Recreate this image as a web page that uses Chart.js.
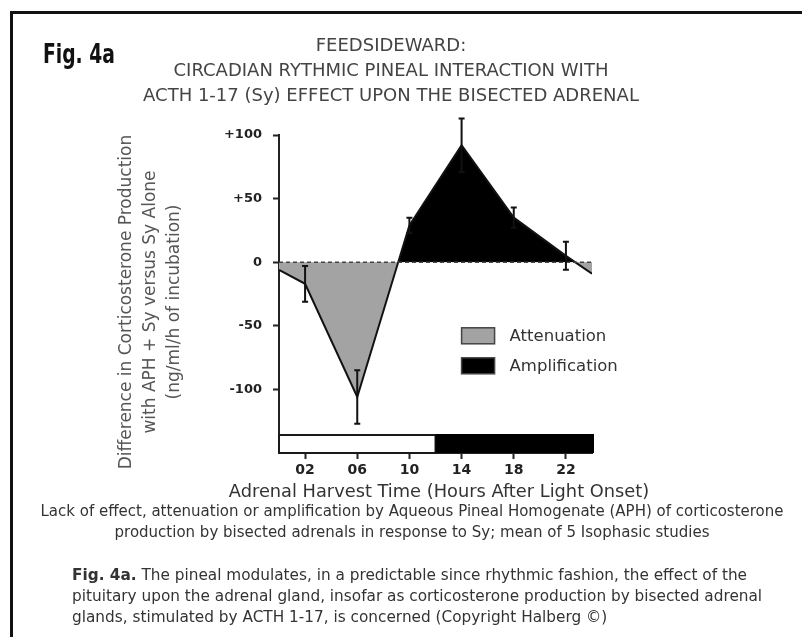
<!DOCTYPE html>
<html lang="en">
<head>
  <meta charset="UTF-8">
  <title>Fig. 4a Feedsideward</title>
  <script src="https://cdn.jsdelivr.net/npm/chart.js"></script>
  <style>
    body {
      margin: 0;
      background: #ffffff;
      font-family: "DejaVu Sans", Verdana, sans-serif;
      color: #333;
    }
    .page {
      position: relative;
      width: 802px;
      height: 637px;
      overflow: hidden;
    }
    /* frame lines of the scanned figure */
    .frame-top { position: absolute; left: 10px; top: 11px; width: 792px; height: 3px; background: #111; }
    .frame-left { position: absolute; left: 10px; top: 11px; width: 3px; height: 626px; background: #111; }
    canvas { position: absolute; left: 0; top: 0; }
    .txt { position: absolute; white-space: nowrap; }
    .center { transform: translateX(-50%); text-align: center; }
    .fig-label {
      left: 43px; top: 39px;
      font-family: "DejaVu Sans Condensed", "DejaVu Sans", sans-serif;
      font-stretch: condensed;
      font-weight: bold; font-size: 26px; color: #111;
      transform: scaleX(0.8); transform-origin: left top;
    }
    .title { left: 391px; font-size: 18px; color: #444; line-height: 20px; }
    .ytitle {
      left: 149px; top: 302px; width: 420px;
      font-size: 17px; line-height: 24px; color: #555; text-align: center;
      transform: translate(-50%, -50%) rotate(-90deg);
    }
    .xtitle { left: 439px; top: 481px; font-size: 17.8px; color: #333; line-height: 20px; }
    .caption { left: 412px; font-size: 15px; color: #333; line-height: 18px; }
    .para { left: 72px; font-size: 15.3px; color: #333; line-height: 18px; }
  </style>
</head>
<body>
<div class="page">
  <div class="frame-top"></div>
  <div class="frame-left"></div>
  <canvas id="chart" width="802" height="637"></canvas>

  <div class="txt fig-label">Fig. 4a</div>
  <div class="txt title center" style="top:35px">FEEDSIDEWARD:</div>
  <div class="txt title center" style="top:60px">CIRCADIAN RYTHMIC PINEAL INTERACTION WITH</div>
  <div class="txt title center" style="top:85px">ACTH 1-17 (Sy) EFFECT UPON THE BISECTED ADRENAL</div>

  <div class="txt ytitle">Difference in Corticosterone Production<br>with APH + Sy versus Sy Alone<br>(ng/ml/h of incubation)</div>
  <div class="txt xtitle center">Adrenal Harvest Time (Hours After Light Onset)</div>

  <div class="txt caption center" style="top:502px">Lack of effect, attenuation or amplification by Aqueous Pineal Homogenate (APH) of corticosterone</div>
  <div class="txt caption center" style="top:523px">production by bisected adrenals in response to Sy; mean of 5 Isophasic studies</div>

  <div class="txt para" style="top:566px"><b>Fig. 4a.</b> The pineal modulates, in a predictable since rhythmic fashion, the effect of the</div>
  <div class="txt para" style="top:587px">pituitary upon the adrenal gland, insofar as corticosterone production by bisected adrenal</div>
  <div class="txt para" style="top:608px">glands, stimulated by ACTH 1-17, is concerned (Copyright Halberg ©)</div>
</div>

<script>
  // Data
  const hours = [0, 2, 6, 10, 14, 18, 22, 24];
  const meanDiff = [-6, -17, -106, 29, 92, 35, 5, -9];
  const sem = [0, 14, 21, 6, 21, 8, 11, 0];

  const xTickHours = [2, 6, 10, 14, 18, 22];
  const xTickLabels = ['02', '06', '10', '14', '18', '22'];
  const yTickValues = [100, 50, 0, -50, -100];

  // light / dark schedule (hours after light onset)
  const lightSpan = [0, 12];
  const darkSpan = [12, 24];

  const legendItems = [
    { label: 'Attenuation', color: '#a3a3a3' },
    { label: 'Amplification', color: '#000000' },
  ];

  const GRAY = '#a3a3a3';
  const INK = '#1a1a1a';

  // dashed zero line, light/dark bar, error bars, legend
  const extrasPlugin = {
    id: 'extras',
    afterDatasetsDraw(chart) {
      const { ctx, chartArea, scales: { x, y } } = chart;
      ctx.save();

      // zero reference line
      const y0 = y.getPixelForValue(0);
      ctx.strokeStyle = '#444';
      ctx.lineWidth = 1.5;
      ctx.setLineDash([4, 3]);
      ctx.beginPath();
      ctx.moveTo(chartArea.left, y0);
      ctx.lineTo(chartArea.right, y0);
      ctx.stroke();
      ctx.setLineDash([]);

      // light / dark bar along the bottom of the plot
      const bandTop = chartArea.bottom - 18;
      const bandBottom = chartArea.bottom;
      const lx1 = x.getPixelForValue(lightSpan[0]);
      const lx2 = x.getPixelForValue(lightSpan[1]);
      const dx1 = x.getPixelForValue(darkSpan[0]);
      const dx2 = x.getPixelForValue(darkSpan[1]);
      ctx.fillStyle = '#ffffff';
      ctx.fillRect(lx1, bandTop, lx2 - lx1, bandBottom - bandTop);
      ctx.strokeStyle = INK;
      ctx.lineWidth = 2;
      ctx.strokeRect(lx1, bandTop, lx2 - lx1, bandBottom - bandTop);
      ctx.fillStyle = '#000000';
      ctx.fillRect(dx1, bandTop - 1, dx2 - dx1 + 2, bandBottom - bandTop + 1);

      // error bars (SEM)
      ctx.strokeStyle = '#111';
      ctx.lineWidth = 2;
      hours.forEach((h, i) => {
        if (!sem[i]) return;
        const px = x.getPixelForValue(h);
        const yTop = y.getPixelForValue(meanDiff[i] + sem[i]);
        const yBot = y.getPixelForValue(meanDiff[i] - sem[i]);
        ctx.beginPath();
        ctx.moveTo(px, yTop);
        ctx.lineTo(px, yBot);
        ctx.moveTo(px - 3, yTop);
        ctx.lineTo(px + 3, yTop);
        ctx.moveTo(px - 3, yBot);
        ctx.lineTo(px + 3, yBot);
        ctx.stroke();
      });

      // legend
      const legX = x.getPixelForValue(14);
      let legY = y.getPixelForValue(-50) + 2;
      ctx.font = '16.5px "DejaVu Sans", sans-serif';
      ctx.textBaseline = 'middle';
      legendItems.forEach((item) => {
        ctx.fillStyle = item.color;
        ctx.fillRect(legX, legY, 33, 16);
        ctx.strokeStyle = '#444';
        ctx.lineWidth = 1.5;
        ctx.strokeRect(legX, legY, 33, 16);
        ctx.fillStyle = '#333';
        ctx.fillText(item.label, legX + 48, legY + 9);
        legY += 30;
      });

      ctx.restore();
    },
  };

  new Chart(document.getElementById('chart'), {
    type: 'line',
    data: {
      datasets: [{
        label: 'APH + Sy minus Sy',
        data: hours.map((h, i) => ({ x: h, y: meanDiff[i] })),
        borderColor: '#111',
        borderWidth: 2,
        pointRadius: 0,
        tension: 0,
        fill: { target: 'origin', above: '#000000', below: GRAY },
      }],
    },
    options: {
      responsive: false,
      animation: false,
      layout: { padding: { left: 219, top: 135, right: 210, bottom: 154 } },
      plugins: {
        legend: { display: false },
        tooltip: { enabled: false },
      },
      scales: {
        x: {
          type: 'linear',
          min: 0,
          max: 24,
          afterBuildTicks: (s) => { s.ticks = xTickHours.map((v) => ({ value: v })); },
          afterFit: (s) => { s.height = 30; },
          ticks: {
            callback: (v) => xTickLabels[xTickHours.indexOf(v)],
            font: { family: '"DejaVu Sans", sans-serif', size: 14, weight: 'bold' },
            color: '#222',
            padding: 3,
            maxRotation: 0,
          },
          grid: { drawOnChartArea: false, tickLength: 6, tickColor: '#222', tickWidth: 2 },
          border: { color: '#222', width: 2 },
        },
        y: {
          type: 'linear',
          min: -150,
          max: 100,
          afterBuildTicks: (s) => { s.ticks = yTickValues.map((v) => ({ value: v })); },
          afterFit: (s) => { s.width = 60; },
          ticks: {
            callback: (v) => (v > 0 ? '+' + v : String(v)),
            font: { family: '"DejaVu Sans", sans-serif', size: 13, weight: 'bold' },
            color: '#222',
            padding: 11,
          },
          grid: { drawOnChartArea: false, tickLength: 6, tickColor: '#222', tickWidth: 2 },
          border: { color: '#222', width: 2 },
        },
      },
    },
    plugins: [extrasPlugin],
  });
</script>
</body>
</html>
